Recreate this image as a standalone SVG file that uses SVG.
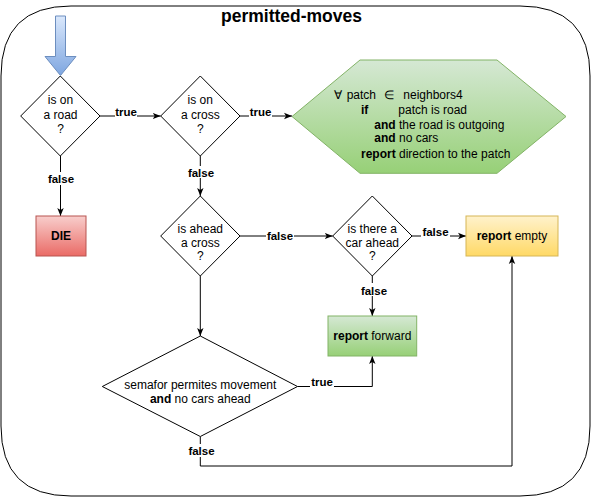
<svg xmlns="http://www.w3.org/2000/svg" width="592" height="498" viewBox="0 0 592 498">
<style>
text{font-family:"Liberation Sans",Arial,Helvetica,sans-serif;font-size:12px;fill:#000}
.b{font-weight:bold}
.lbl{font-weight:bold;font-size:11.5px;text-anchor:middle}
.mid{text-anchor:middle}
.ln{fill:none;stroke:#000;stroke-width:1}
.dia{fill:#fff;stroke:#000;stroke-width:1}
.bg{fill:#fff}
</style>
<defs>
<linearGradient id="gGreen" x1="0" y1="0" x2="0" y2="1"><stop offset="0" stop-color="#d5e8d4"/><stop offset="1" stop-color="#97d077"/></linearGradient>
<linearGradient id="gRed" x1="0" y1="0" x2="0" y2="1"><stop offset="0" stop-color="#f8cecc"/><stop offset="1" stop-color="#ea6b66"/></linearGradient>
<linearGradient id="gYellow" x1="0" y1="0" x2="0" y2="1"><stop offset="0" stop-color="#fff2cc"/><stop offset="1" stop-color="#ffd966"/></linearGradient>
<linearGradient id="gBlue" x1="0" y1="0" x2="0" y2="1"><stop offset="0" stop-color="#dae8fc"/><stop offset="1" stop-color="#7ea6e0"/></linearGradient>
<marker id="arr" markerUnits="userSpaceOnUse" viewBox="0 0 10 10" markerWidth="8" markerHeight="8" refX="10" refY="5" orient="auto">
<path d="M0,1 L10,5 L0,9 L2.5,5 z" fill="#000"/>
</marker>
</defs>

<g id="frame">
<path d="M1,76 Q1,6 71,6 L520,6 Q590,6 590,76 L590,426 Q590,496 520,496 L71,496 Q1,496 1,426 Z" fill="#fff" stroke="#000" stroke-width="1"/>
<text class="b mid" x="291.5" y="22" style="font-size:17.5px">permitted-moves</text>
</g>

<g id="start">
<path d="M55.5,16 L65.5,16 L65.5,56.5 L76,56.5 L60.5,75.5 L45,56.5 L55.5,56.5 Z" fill="url(#gBlue)" stroke="#6c8ebf" stroke-width="1"/>
</g>

<g id="connectors">
<path class="ln" d="M100,116 L160.7,116" marker-end="url(#arr)"/>
<path class="ln" d="M240,116 L292,116" marker-end="url(#arr)"/>
<path class="ln" d="M60.5,156 L60.5,216" marker-end="url(#arr)"/>
<path class="ln" d="M200.3,156 L200.3,196" marker-end="url(#arr)"/>
<path class="ln" d="M240,236 L332.7,236" marker-end="url(#arr)"/>
<path class="ln" d="M412,236 L466,236" marker-end="url(#arr)"/>
<path class="ln" d="M372.3,276 L372.3,316" marker-end="url(#arr)"/>
<path class="ln" d="M200.3,276 L200.3,336" marker-end="url(#arr)"/>
<path class="ln" d="M297.5,386.5 L372.3,386.5 L372.3,356" marker-end="url(#arr)"/>
<path class="ln" d="M200.3,436.5 L200.3,466 L512,466 L512,256" marker-end="url(#arr)"/>

<rect class="bg" x="115" y="106" width="22" height="11"/>
<text class="lbl" x="126" y="116">true</text>
<rect class="bg" x="249" y="106" width="23" height="11"/>
<text class="lbl" x="260.5" y="116">true</text>
<rect class="bg" x="47" y="172" width="28" height="13"/>
<text class="lbl" x="61" y="183">false</text>
<rect class="bg" x="187" y="166" width="28" height="12"/>
<text class="lbl" x="201" y="176.5">false</text>
<rect class="bg" x="266" y="229" width="28" height="13"/>
<text class="lbl" x="280" y="240">false</text>
<rect class="bg" x="421" y="226" width="29" height="11"/>
<text class="lbl" x="435.5" y="236">false</text>
<rect class="bg" x="360" y="283" width="28" height="13"/>
<text class="lbl" x="374" y="294.5">false</text>
<rect class="bg" x="310" y="376" width="24" height="11"/>
<text class="lbl" x="322" y="386">true</text>
<rect class="bg" x="187" y="444" width="29" height="13"/>
<text class="lbl" x="201.5" y="455">false</text>
</g>

<g id="onRoad">
<polygon class="dia" points="60.3,76 100,116 60.3,156 20.7,116"/>
<text class="mid" x="60.5" y="104.3">is on</text>
<text class="mid" x="60.5" y="119">a road</text>
<text class="mid" x="60.5" y="133">?</text>
</g>

<g id="onCross">
<polygon class="dia" points="200.3,76 240,116 200.3,156 160.7,116"/>
<text class="mid" x="200.3" y="104.3">is on</text>
<text class="mid" x="200.3" y="119">a cross</text>
<text class="mid" x="200.3" y="133">?</text>
</g>

<g id="neighbors">
<polygon points="292,116.5 360,60 497,60 566,116.5 497,173.3 360,173.3" fill="url(#gGreen)" stroke="#82b366" stroke-width="1"/>
<text x="334" y="98.5">∀</text>
<text x="346.7" y="98.5">patch</text>
<text x="384.3" y="98.5">∈</text>
<text x="403.3" y="98.5">neighbors4</text>
<text class="b" x="361" y="113.5">if</text>
<text x="398.3" y="113.5">patch is road</text>
<text x="374.3" y="129"><tspan class="b">and</tspan> the road is outgoing</text>
<text x="374.3" y="142"><tspan class="b">and</tspan> no cars</text>
<text x="361" y="158"><tspan class="b">report</tspan> direction to the patch</text>
</g>

<g id="die">
<rect x="36" y="216" width="50" height="40" fill="url(#gRed)" stroke="#b85450" stroke-width="1"/>
<text class="b mid" x="61" y="240.3">DIE</text>
</g>

<g id="aheadCross">
<polygon class="dia" points="200.3,196 240,236 200.3,276 160.7,236"/>
<text class="mid" x="200.3" y="232.5">is ahead</text>
<text class="mid" x="200.3" y="246.5">a cross</text>
<text class="mid" x="200.3" y="260.3">?</text>
</g>

<g id="carAhead">
<polygon class="dia" points="372.3,196 412,236 372.3,276 332.7,236"/>
<text class="mid" x="372.3" y="232.5">is there a</text>
<text class="mid" x="372.3" y="246.5">car ahead</text>
<text class="mid" x="372.3" y="260.3">?</text>
</g>

<g id="reportEmpty">
<rect x="466" y="216" width="92" height="40" fill="url(#gYellow)" stroke="#d6b656" stroke-width="1"/>
<text class="mid" x="512" y="240.3"><tspan class="b">report</tspan> empty</text>
</g>

<g id="reportForward">
<rect x="328" y="316" width="88.7" height="40" fill="url(#gGreen)" stroke="#82b366" stroke-width="1"/>
<text class="mid" x="372.3" y="340.3"><tspan class="b">report</tspan> forward</text>
</g>

<g id="semafor">
<polygon class="dia" points="200.3,336 297.5,386.5 200.3,436.5 102.3,386.5"/>
<text class="mid" x="200.3" y="389.3">semafor permites movement</text>
<text class="mid" x="200.3" y="403.3"><tspan class="b">and</tspan> no cars ahead</text>
</g>
</svg>
